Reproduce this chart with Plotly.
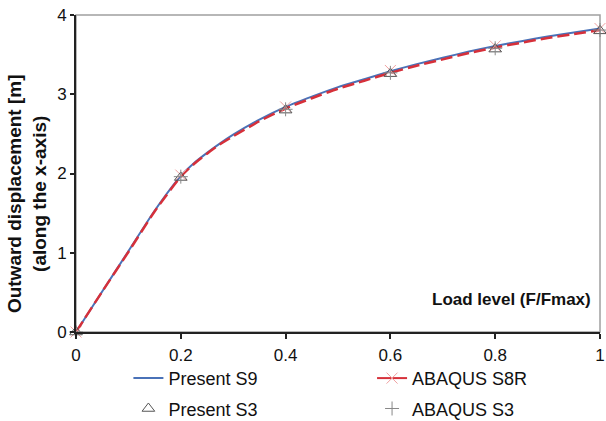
import plotly.graph_objects as go

load = [0, 0.05, 0.1, 0.15, 0.2, 0.225, 0.25, 0.275, 0.3, 0.35, 0.4, 0.45, 0.5, 0.55, 0.6, 0.65, 0.7, 0.75, 0.8, 0.85, 0.9, 0.95, 1.0]
present_s9 = [0, 0.51, 1.02, 1.53, 1.97, 2.13, 2.26, 2.38, 2.49, 2.68, 2.84, 2.97, 3.09, 3.19, 3.29, 3.38, 3.46, 3.54, 3.61, 3.67, 3.73, 3.78, 3.83]
abaqus_s8r = [0, 0.51, 1.01, 1.52, 1.96, 2.12, 2.25, 2.37, 2.47, 2.66, 2.82, 2.95, 3.07, 3.17, 3.27, 3.36, 3.44, 3.52, 3.59, 3.65, 3.71, 3.76, 3.81]
pts_load = [0, 0.2, 0.4, 0.6, 0.8, 1.0]
abaqus_s8r_pts = [0, 1.98, 2.84, 3.30, 3.61, 3.83]
present_s3 = [0, 1.95, 2.80, 3.26, 3.57, 3.80]
abaqus_s3 = [0, 1.96, 2.81, 3.27, 3.58, 3.81]
x_ticks = [0, 0.2, 0.4, 0.6, 0.8, 1]
x_ticktext = ["0", "0.2", "0.4", "0.6", "0.8", "1"]
y_ticks = [0, 1, 2, 3, 4]

fig = go.Figure()
fig.add_trace(go.Scatter(x=load, y=present_s9, mode="lines", name="Present S9",
                         line=dict(color="#4a72b8", width=2, shape="spline", smoothing=0.6),
                         legend="legend", legendgroup="g1"))
fig.add_trace(go.Scatter(x=load, y=abaqus_s8r, mode="lines", name="ABAQUS S8R",
                         line=dict(color="#d6303a", width=2.5, dash="12px,5px", shape="spline", smoothing=0.6),
                         showlegend=False, legend="legend2", legendgroup="g2"))
fig.add_trace(go.Scatter(x=pts_load, y=abaqus_s8r_pts, mode="markers", name="ABAQUS S8R",
                         marker=dict(symbol="x-thin", size=11, line=dict(color="#f0a0a0", width=1)),
                         showlegend=False, legend="legend2", legendgroup="g2", cliponaxis=False))
fig.add_trace(go.Scatter(x=[None], y=[None], mode="lines+markers", name="ABAQUS S8R",
                         line=dict(color="#d6303a", width=2),
                         marker=dict(symbol="x-thin", size=11, line=dict(color="#f0a0a0", width=1)),
                         legend="legend2", legendgroup="g2"))
fig.add_trace(go.Scatter(x=pts_load, y=present_s3, mode="markers", name="Present S3",
                         marker=dict(symbol="triangle-up-open", size=11, color="#555555",
                                     line=dict(width=1)),
                         legend="legend", legendgroup="g3", cliponaxis=False))
fig.add_trace(go.Scatter(x=pts_load, y=abaqus_s3, mode="markers", name="ABAQUS S3",
                         marker=dict(symbol="cross-thin", size=10, line=dict(color="#888888", width=1)),
                         legend="legend2", legendgroup="g4", cliponaxis=False))

fig.add_shape(type="rect", xref="paper", yref="paper", x0=0, y0=0, x1=1, y1=1,
              line=dict(color="#a0a0a0", width=1.5), layer="below")

fig.add_annotation(x=1, y=0, xref="paper", yref="paper", xanchor="right", yanchor="bottom",
                   xshift=-7, yshift=21, showarrow=False,
                   text="<b>Load level (F/Fmax)</b>", font=dict(size=17, color="#111"))

# y-axis title as rotated annotation (sits slightly below centre like the reference)
fig.add_annotation(x=0, y=0.435, xref="paper", yref="paper", xanchor="center", yanchor="middle",
                   xshift=-49, showarrow=False, textangle=-90,
                   text="<b>Outward displacement [m]<br>(along the x-axis)</b>",
                   font=dict(size=19, color="#111"))

leg_common = dict(orientation="v", xanchor="left", yanchor="top", font=dict(size=18),
                  traceorder="grouped", tracegroupgap=4, bgcolor="rgba(0,0,0,0)")

fig.update_layout(
    width=606, height=421,
    margin=dict(l=76, r=6, t=15, b=89, autoexpand=False),
    paper_bgcolor="white", plot_bgcolor="white",
    font=dict(family="Liberation Sans, Arial, sans-serif", size=16, color="#111"),
    showlegend=True,
    legend=dict(x=0.1, y=-0.088, **leg_common),
    legend2=dict(x=0.565, y=-0.088, **leg_common),
    xaxis=dict(range=[0, 1], tickvals=x_ticks, ticktext=x_ticktext,
               showgrid=False, zeroline=False, showline=True, linecolor="#222", linewidth=2,
               ticks="outside", ticklen=5, tickwidth=2, tickcolor="#222", automargin=False,
               ticklabeloverflow="allow", tickfont=dict(size=17), ticklabelstandoff=2),
    yaxis=dict(range=[0, 4], tickvals=y_ticks, showgrid=False, zeroline=False,
               showline=True, linecolor="#222", linewidth=2, automargin=False,
               ticks="outside", ticklen=4, tickwidth=2, tickcolor="#222", tickfont=dict(size=17)),
)

fig.write_html("out.html")
